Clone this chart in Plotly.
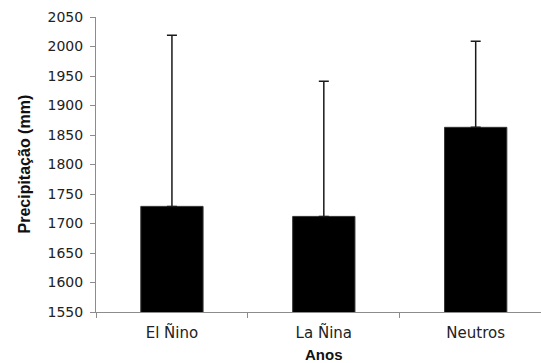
import plotly.graph_objects as go

# Mean annual precipitation by ENSO phase, with standard deviation
categorias = ["El Ñino", "La Ñina", "Neutros"]
precipitacao_media = [1729, 1712, 1863]
desvio_padrao = [290, 229, 146]

fig = go.Figure()
fig.add_trace(go.Bar(
    x=categorias,
    y=precipitacao_media,
    width=0.41,
    marker=dict(color="#000000", line=dict(color="#333333", width=1)),
    error_y=dict(
        type="data",
        symmetric=False,
        array=desvio_padrao,
        arrayminus=[0, 0, 0],
        color="#1a1a1a",
        thickness=1.5,
        width=5,
    ),
))

axis_grey = "#8c8c8c"
fig.update_layout(
    width=541,
    height=363,
    margin=dict(l=96, r=0, t=17, b=51),
    paper_bgcolor="white",
    plot_bgcolor="white",
    showlegend=False,
    font=dict(family="DejaVu Sans", color="#222222"),
    xaxis=dict(
        type="category",
        range=[-0.5, 2.43],
        showline=True,
        linecolor=axis_grey,
        linewidth=1,
        ticks="outside",
        tickson="boundaries",
        ticklen=5,
        tickcolor=axis_grey,
        tickfont=dict(size=15, family="DejaVu Sans", color="#222222"),
        ticklabelstandoff=7,
        showgrid=False,
        zeroline=False,
    ),
    yaxis=dict(
        range=[1550, 2050],
        tickvals=list(range(1550, 2051, 50)),
        showline=True,
        linecolor=axis_grey,
        linewidth=1,
        ticks="outside",
        ticklen=5,
        tickcolor=axis_grey,
        tickfont=dict(size=14, family="DejaVu Sans", color="#222222"),
        ticklabelstandoff=4,
        showgrid=False,
        zeroline=False,
    ),
    annotations=[
        dict(
            text="<b>Precipitação (mm)</b>",
            xref="paper", yref="paper",
            x=0, y=0.5,
            xanchor="center", yanchor="middle",
            xshift=-72,
            textangle=-90,
            showarrow=False,
            font=dict(family="Liberation Sans", size=16, color="#111111"),
        ),
        dict(
            text="<b>Anos</b>",
            xref="x", yref="paper",
            x=1, y=0,
            xanchor="center", yanchor="middle",
            yshift=-42,
            showarrow=False,
            font=dict(family="Liberation Sans", size=15, color="#111111"),
        ),
    ],
)

fig.write_html("out.html")
